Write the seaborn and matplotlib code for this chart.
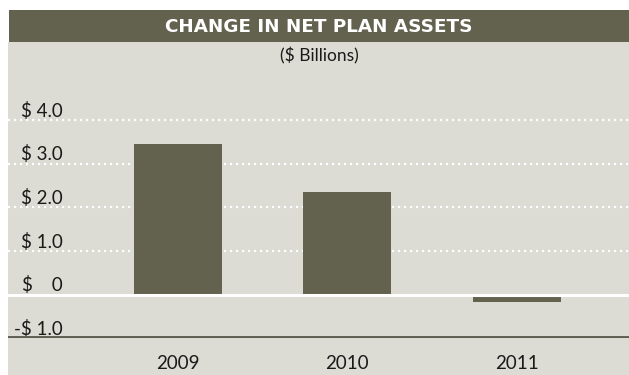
import matplotlib
matplotlib.use("Agg")
import matplotlib.pyplot as plt
import seaborn as sns
import pandas as pd
from matplotlib.patches import Rectangle

# Data
years = ["2009", "2010", "2011"]
change = [3.45, 2.34, -0.17]
tick_values = [-1, 0, 1, 2, 3, 4]
tick_labels = ["-$ 1.0", "$    0", "$ 1.0", "$ 2.0", "$ 3.0", "$ 4.0"]
title = "CHANGE IN NET PLAN ASSETS"
subtitle = "($ Billions)"

DARK = "#62624f"
PANEL = "#dcdcd4"
INK = "#1a1a1a"

sns.set_theme(style="white")
plt.rcParams["font.family"] = ["Lato", "DejaVu Sans"]

W, H = 629, 375
fig = plt.figure(figsize=(W / 100, H / 100), dpi=100)
fig.patch.set_facecolor("white")

# Panel background and title band
fig.add_artist(Rectangle((8 / W, 0), 1 - 8 / W, 1 - 42 / H, transform=fig.transFigure,
                         facecolor=PANEL, edgecolor="none", zorder=0))
fig.add_artist(Rectangle((9 / W, 1 - 42 / H), 1 - 9 / W, 32 / H, transform=fig.transFigure,
                         facecolor=DARK, edgecolor="none", zorder=0))
fig.text(319 / W, 1 - 27.5 / H, title, color="white", fontsize=13.2, fontweight="bold",
         family=["DejaVu Sans"], ha="center", va="center")
fig.text(319 / W, 1 - 56 / H, subtitle, color=INK, fontsize=12.5,
         ha="center", va="center")

# Plot area: y=-1 at 338px, y=4 at 120px
px_per_unit = (338.3 - 120) / 5
ymin, ymax = -1, 4.5
ax_bottom = 1 - 338.3 / H
ax_height = (ymax - ymin) * px_per_unit / H
ax = fig.add_axes([8 / W, ax_bottom, 1 - 8 / W, ax_height])
ax.set_facecolor("none")

df = pd.DataFrame({"year": years, "change": change})
sns.barplot(data=df, x="year", y="change", color=DARK, saturation=1, width=0.52,
            edgecolor="none", ax=ax, zorder=3)

ax.set_xlim(-1.0, 2.66)
ax.set_ylim(ymin, ymax)
for s in ax.spines.values():
    s.set_visible(False)

# Dotted white gridlines
for v in tick_values:
    if v > 0:
        ax.axhline(v, color="white", lw=1.6, dashes=(1, 1.7), zorder=1)
ax.axhline(0, color="white", lw=2.2, zorder=4)
ax.axhline(-1, color="#5e5e52", lw=2.8, zorder=4)

ax.set_yticks([])
ax.set_xlabel("")
ax.set_ylabel("")
ax.tick_params(axis="x", length=0, pad=12, labelsize=13.5, labelcolor=INK)

# Y labels sit just above their lines, right aligned
for v, lab in zip(tick_values, tick_labels):
    ax.annotate(lab, xy=((63 - 8) / (W - 8), v), xycoords=("axes fraction", "data"),
                xytext=(0, 2.5), textcoords="offset points", ha="right", va="baseline",
                fontsize=13.5, color=INK, annotation_clip=False)

fig.savefig("out.png", dpi=100, facecolor=fig.get_facecolor())
